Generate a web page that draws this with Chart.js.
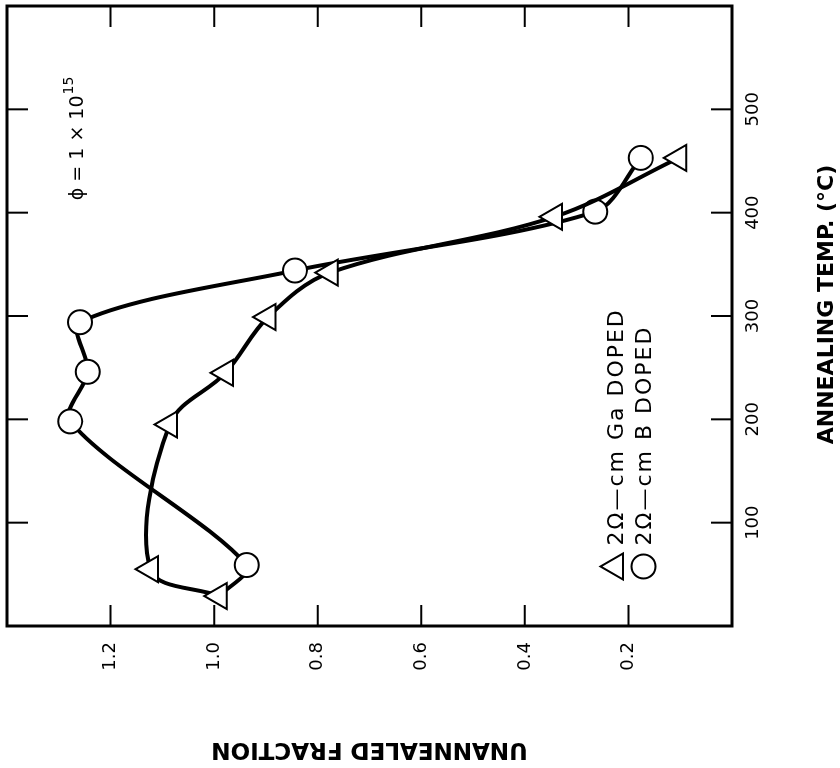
<!DOCTYPE html>
<html>
<head>
<meta charset="utf-8">
<script src="https://cdn.jsdelivr.net/npm/chart.js@4.4.0/dist/chart.umd.min.js"></script>
<style>
  html, body { margin: 0; padding: 0; background: #fff; overflow: hidden; width: 840px; height: 768px; }
  #wrap { position: absolute; left: 0; top: 0; width: 768px; height: 840px;
          transform-origin: 0 0; transform: translate(0px, 768px) rotate(-90deg); }
  canvas { display: block; }
</style>
</head>
<body>
<div id="wrap"><canvas id="myChart" width="768" height="840"></canvas></div>
<script>
// annealing temperature (C) and unannealed fraction
const gaTemp = [29, 55, 195, 245, 299, 342, 396, 453];
const gaFrac = [0.99, 1.123, 1.086, 0.978, 0.896, 0.776, 0.343, 0.103];
const bTemp = [29, 59, 198, 246, 294, 344, 401, 453];
const bFrac = [0.99, 0.937, 1.278, 1.244, 1.259, 0.844, 0.264, 0.176];

const tempTicks = [100, 200, 300, 400, 500];
const fracTicks = [0.2, 0.4, 0.6, 0.8, 1.0, 1.2];

const seriesLabels = ['2\u03A9\u2014cm Ga DOPED', '2\u03A9\u2014cm B DOPED'];

const FONT = "'DejaVu Sans', 'Liberation Sans', sans-serif";

function toPoints(xs, ys) {
  return xs.map((x, i) => ({ x: x, y: ys[i] }));
}

function triangle(ctx, x, y, r) {
  ctx.beginPath();
  ctx.moveTo(x, y - r);
  ctx.lineTo(x + Math.sin(2 * Math.PI / 3) * r, y - Math.cos(2 * Math.PI / 3) * r);
  ctx.lineTo(x + Math.sin(4 * Math.PI / 3) * r, y - Math.cos(4 * Math.PI / 3) * r);
  ctx.closePath();
  ctx.fill();
  ctx.stroke();
}

function noPad(s) {
  s.paddingTop = 0;
  s.paddingBottom = 0;
  s.paddingLeft = 0;
  s.paddingRight = 0;
}

const framePlugin = {
  id: 'frame',
  beforeDatasetsDraw(chart) {
    const { ctx, chartArea: a, scales } = chart;
    ctx.save();
    ctx.strokeStyle = '#000';
    ctx.lineWidth = 2;
    ctx.beginPath();
    tempTicks.forEach(v => {
      const x = scales.x.getPixelForValue(v);
      ctx.moveTo(x, a.bottom); ctx.lineTo(x, a.bottom - 21);
      ctx.moveTo(x, a.top); ctx.lineTo(x, a.top + 21);
    });
    fracTicks.forEach(v => {
      const y = scales.y.getPixelForValue(v);
      ctx.moveTo(a.left, y); ctx.lineTo(a.left + 21, y);
      ctx.moveTo(a.right, y); ctx.lineTo(a.right - 21, y);
    });
    ctx.stroke();
    ctx.restore();
  },
  afterDraw(chart) {
    const { ctx, chartArea: a, scales } = chart;
    ctx.save();
    ctx.strokeStyle = '#000';
    ctx.lineWidth = 3;
    ctx.strokeRect(a.left, a.top, a.right - a.left, a.bottom - a.top);

    // flux label
    ctx.fillStyle = '#000';
    ctx.textBaseline = 'alphabetic';
    let px = scales.x.getPixelForValue(412);
    const py = scales.y.getPixelForValue(1.253);
    ctx.font = '19px ' + FONT;
    const main = '\u03D5 = 1 \u00D7 10';
    ctx.fillText(main, px, py);
    px += ctx.measureText(main).width + 1;
    ctx.font = '14px ' + FONT;
    ctx.fillText('15', px, py - 10);

    // legend
    const lx = scales.x.getPixelForValue(57.6);
    const tx = scales.x.getPixelForValue(78);
    const ly = [scales.y.getPixelForValue(0.225), scales.y.getPixelForValue(0.171)];
    ctx.fillStyle = '#fff';
    ctx.lineWidth = 2;
    triangle(ctx, lx, ly[0], 15);
    ctx.beginPath();
    ctx.arc(lx, ly[1], 12, 0, Math.PI * 2);
    ctx.fill();
    ctx.stroke();
    ctx.fillStyle = '#000';
    ctx.font = '22px ' + FONT;
    ctx.letterSpacing = '2px';
    ctx.fillText(seriesLabels[0], tx, ly[0] + 8);
    ctx.fillText(seriesLabels[1], tx, ly[1] + 8);
    ctx.restore();
  }
};

const ctx = document.getElementById('myChart').getContext('2d');
const myChart = new Chart(ctx, {
  type: 'scatter',
  data: {
    datasets: [
      {
        label: seriesLabels[0],
        data: toPoints(gaTemp, gaFrac),
        showLine: true,
        borderColor: '#000',
        borderWidth: 4,
        tension: 0.35,
        pointStyle: 'triangle',
        pointRadius: 15,
        pointBorderWidth: 2,
        pointBackgroundColor: '#fff',
        pointBorderColor: '#000'
      },
      {
        label: seriesLabels[1],
        data: toPoints(bTemp, bFrac),
        showLine: true,
        borderColor: '#000',
        borderWidth: 4,
        tension: 0.3,
        pointStyle: 'circle',
        pointRadius: bTemp.map((t, i) => (i === 0 ? 0 : 12)),
        pointBorderWidth: 2,
        pointBackgroundColor: '#fff',
        pointBorderColor: '#000'
      }
    ]
  },
  options: {
    responsive: false,
    animation: false,
    layout: { autoPadding: false, padding: { top: 7, right: 6, left: 0, bottom: 0 } },
    plugins: { legend: { display: false }, tooltip: { enabled: false } },
    scales: {
      x: {
        type: 'linear',
        min: 0,
        max: 600,
        grid: { display: false, drawTicks: false },
        border: { display: false },
        afterBuildTicks: s => { s.ticks = tempTicks.map(v => ({ value: v })); },
        afterFit: s => { s.height = 108; noPad(s); },
        ticks: { color: '#000', font: { family: FONT, size: 18 }, padding: 11, maxRotation: 0 },
        title: {
          display: true,
          text: '\u00A0\u00A0\u00A0ANNEALING TEMP. (\u00B0C)',
          color: '#000',
          font: { family: FONT, size: 22, weight: 'bold' },
          padding: 0
        }
      },
      y: {
        type: 'linear',
        min: 0,
        max: 1.4,
        grid: { display: false, drawTicks: false },
        border: { display: false },
        afterBuildTicks: s => { s.ticks = fracTicks.map(v => ({ value: v })); },
        afterFit: s => { s.width = 142; noPad(s); },
        ticks: {
          color: '#000',
          font: { family: FONT, size: 18 },
          padding: 16,
          callback: v => Number(v).toFixed(1)
        },
        title: {
          display: true,
          text: 'UNANNEALED FRACTION',
          color: '#000',
          font: { family: FONT, size: 23, weight: 'bold' },
          padding: { top: 5, bottom: 0 }
        }
      }
    }
  },
  plugins: [framePlugin]
});
</script>
</body>
</html>
